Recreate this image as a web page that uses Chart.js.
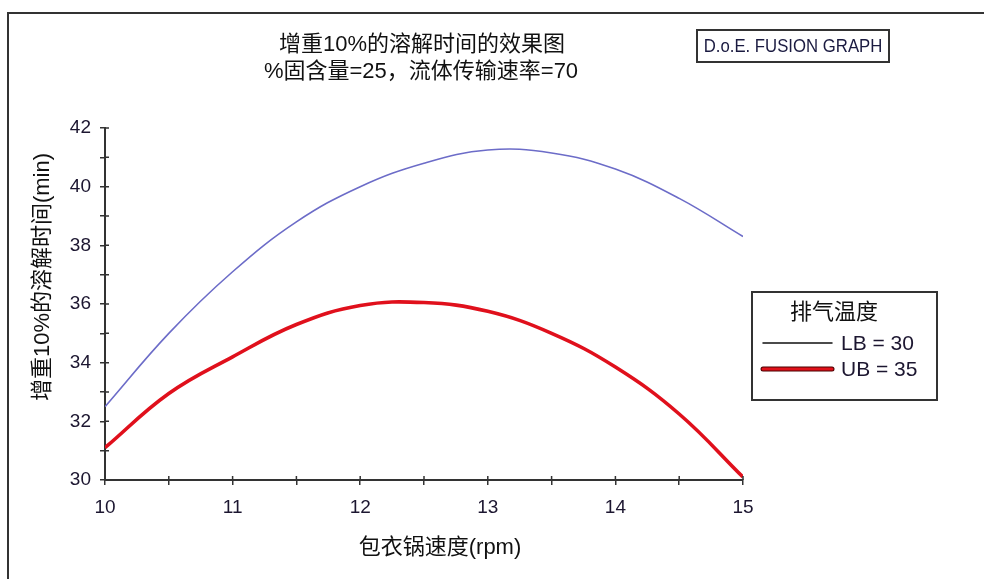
<!DOCTYPE html>
<html>
<head>
<meta charset="utf-8">
<script src="https://cdn.jsdelivr.net/npm/chart.js@4.4.1/dist/chart.umd.min.js"></script>
<style>
  html, body { margin: 0; padding: 0; background: #fff; }
  #wrap { width: 984px; height: 579px; }
</style>
</head>
<body>
<div id="wrap"><canvas id="fusionChart"></canvas></div>
<script>
// values
const speeds = [10, 10.5, 11, 11.5, 12, 12.5, 13, 13.5, 14, 14.5, 15];
const lb30 = [32.5, 35.0, 37.1, 38.8, 40.0, 40.8, 41.25, 41.15, 40.6, 39.6, 38.3];
const ub35 = [31.1, 32.95, 34.2, 35.3, 35.95, 36.05, 35.75, 35.0, 33.85, 32.25, 30.1];
const seriesNames = ['LB = 30', 'UB = 35'];
const yTicks = [30, 32, 34, 36, 38, 40, 42];
const xTicks = [10, 11, 12, 13, 14, 15];

const titleLines = ['增重10%的溶解时间的效果图', '%固含量=25，流体传输速率=70'];
const xTitle = '包衣锅速度(rpm)';
const yTitle = '增重10%的溶解时间(min)';
const legendTitle = '排气温度';
const badge = 'D.o.E. FUSION GRAPH';

const FONT = '"Liberation Sans", Arial, "Noto Sans CJK SC", sans-serif';
const ink = '#333';
const labelInk = '#1c1630';

function toPoints(ys) {
  return speeds.map(function (s, i) { return { x: s, y: ys[i] }; });
}

// frame, titles, badge, legend and the inner half of the ticks
const decorations = {
  id: 'decorations',
  afterDraw: function (chart) {
    const ctx = chart.ctx;
    const area = chart.chartArea;
    ctx.save();

    // outer frame (runs off the right and bottom)
    ctx.strokeStyle = ink;
    ctx.lineWidth = 2;
    ctx.beginPath();
    ctx.moveTo(984, 13);
    ctx.lineTo(8, 13);
    ctx.lineTo(8, 579);
    ctx.stroke();

    // ticks poke a little into the plot as well
    ctx.lineWidth = 1.5;
    ctx.beginPath();
    chart.scales.y.ticks.forEach(function (t) {
      const py = chart.scales.y.getPixelForValue(t.value);
      ctx.moveTo(area.left, py);
      ctx.lineTo(area.left + 4, py);
    });
    chart.scales.x.ticks.forEach(function (t) {
      const px = chart.scales.x.getPixelForValue(t.value);
      ctx.moveTo(px, area.bottom);
      ctx.lineTo(px, area.bottom - 4);
    });
    ctx.stroke();

    // title
    ctx.fillStyle = '#111';
    ctx.textAlign = 'center';
    ctx.textBaseline = 'middle';
    ctx.font = '22px ' + FONT;
    ctx.fillText(titleLines[0], 422, 45);
    ctx.fillText(titleLines[1], 421, 72);

    // axis titles
    ctx.fillText(xTitle, 440, 548);
    ctx.save();
    ctx.translate(43, 277);
    ctx.rotate(-Math.PI / 2);
    ctx.fillText(yTitle, 0, 0);
    ctx.restore();

    // badge
    ctx.strokeStyle = ink;
    ctx.lineWidth = 2;
    ctx.strokeRect(697, 30, 192, 32);
    ctx.save();
    ctx.translate(793, 47);
    ctx.scale(0.93, 1.05);
    ctx.fillStyle = '#1a1a40';
    ctx.font = '18px ' + FONT;
    ctx.fillText(badge, 0, 0);
    ctx.restore();

    // legend
    ctx.strokeRect(752, 292, 185, 108);
    ctx.fillStyle = '#111';
    ctx.font = '22px ' + FONT;
    ctx.fillText(legendTitle, 834, 313);

    ctx.lineCap = 'round';
    ctx.strokeStyle = '#111';
    ctx.lineWidth = 1.5;
    ctx.beginPath();
    ctx.moveTo(763, 343);
    ctx.lineTo(832, 343);
    ctx.stroke();

    ctx.strokeStyle = '#4a0000';
    ctx.lineWidth = 5;
    ctx.beginPath();
    ctx.moveTo(763, 369);
    ctx.lineTo(832, 369);
    ctx.stroke();
    ctx.strokeStyle = '#e0101a';
    ctx.lineWidth = 3;
    ctx.stroke();

    ctx.textAlign = 'left';
    ctx.fillStyle = labelInk;
    ctx.font = '21px ' + FONT;
    ctx.fillText(seriesNames[0], 841, 344);
    ctx.fillText(seriesNames[1], 841, 370);

    ctx.restore();
  }
};

const ctx = document.getElementById('fusionChart').getContext('2d');
const fusionChart = new Chart(ctx, {
  type: 'line',
  data: {
    datasets: [{
      label: seriesNames[0],
      data: toPoints(lb30),
      borderColor: '#6c6cc8',
      borderWidth: 1.6,
      pointRadius: 0,
      tension: 0.4,
      fill: false
    }, {
      label: seriesNames[1],
      data: toPoints(ub35),
      borderColor: '#e0101c',
      borderWidth: 3.6,
      pointRadius: 0,
      tension: 0.4,
      fill: false
    }]
  },
  options: {
    responsive: true,
    maintainAspectRatio: false,
    animation: false,
    layout: { padding: { left: 0, top: 128, right: 241, bottom: 0 } },
    plugins: {
      legend: { display: false },
      title: { display: false },
      tooltip: { enabled: false }
    },
    scales: {
      x: {
        type: 'linear',
        min: xTicks[0],
        max: xTicks[xTicks.length - 1],
        afterFit: function (scale) { scale.height = 99; },
        border: { color: ink, width: 2 },
        grid: { drawOnChartArea: false, tickLength: 5, color: ink, lineWidth: 1.5 },
        ticks: {
          stepSize: 0.5,
          autoSkip: false,
          maxRotation: 0,
          padding: 11,
          color: labelInk,
          font: { family: FONT, size: 19 },
          callback: function (v) { return xTicks.indexOf(v) >= 0 ? String(v) : ''; }
        }
      },
      y: {
        min: yTicks[0],
        max: yTicks[yTicks.length - 1],
        afterFit: function (scale) { scale.width = 105; },
        border: { color: ink, width: 2 },
        grid: { drawOnChartArea: false, tickLength: 5, color: ink, lineWidth: 1.5 },
        ticks: {
          stepSize: 1,
          autoSkip: false,
          padding: 9,
          color: labelInk,
          font: { family: FONT, size: 19 },
          callback: function (v) { return yTicks.indexOf(v) >= 0 ? String(v) : ''; }
        }
      }
    }
  },
  plugins: [decorations]
});
</script>
</body>
</html>
